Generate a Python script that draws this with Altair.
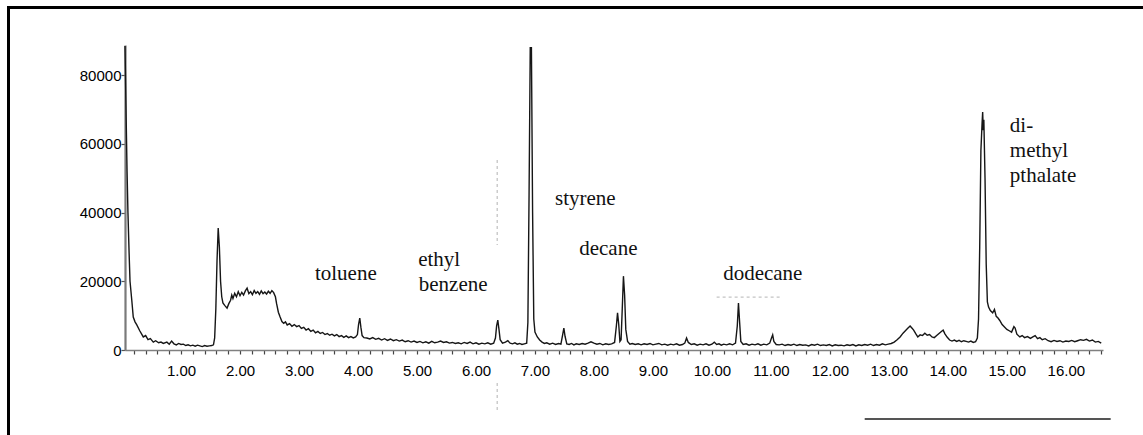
import altair as alt
import pandas as pd

# Total ion chromatogram: (retention time in min, abundance) read in segments
solvent_front = [
    (0.05, 88500), (0.07, 67000), (0.085, 52000), (0.10, 40000), (0.12, 28000),
    (0.135, 20000), (0.165, 14500), (0.19, 9600), (0.22, 8200), (0.25, 7300),
    (0.30, 5600), (0.36, 3800), (0.40, 4200), (0.44, 3000), (0.48, 3300),
    (0.53, 2300), (0.57, 2700), (0.62, 2100), (0.66, 2300), (0.70, 1900),
    (0.76, 2300), (0.80, 1700), (0.84, 2600), (0.88, 1800), (0.92, 1500),
    (0.96, 1900), (1.00, 1600), (1.04, 1700), (1.08, 1300), (1.12, 1500),
    (1.16, 1200), (1.20, 1400), (1.24, 1100), (1.28, 1400), (1.32, 1200),
    (1.36, 1000), (1.40, 1300), (1.44, 1100), (1.48, 1200), (1.52, 1300),
    (1.55, 1500),
]

early_hump = [
    (1.57, 3500), (1.59, 12000), (1.61, 26000), (1.63, 35500), (1.65, 30000),
    (1.67, 20000), (1.69, 15500), (1.71, 13700), (1.74, 13000), (1.78, 12200),
    (1.81, 13500), (1.84, 14500), (1.86, 16000), (1.88, 15000), (1.91, 16500),
    (1.94, 15500), (1.97, 17000), (2.00, 15800), (2.03, 16800), (2.06, 16000),
    (2.09, 17200), (2.12, 18000), (2.15, 16400), (2.18, 17000), (2.21, 16100),
    (2.24, 17300), (2.27, 16500), (2.30, 17000), (2.33, 16200), (2.36, 17200),
    (2.39, 16400), (2.42, 16900), (2.45, 16300), (2.48, 17100), (2.51, 16500),
    (2.54, 17300), (2.57, 16700), (2.60, 15500), (2.62, 13500), (2.65, 11000),
    (2.68, 9600), (2.71, 8300), (2.74, 7800), (2.77, 8200), (2.80, 7300),
    (2.84, 7700), (2.88, 6900), (2.92, 7400), (2.96, 6800), (3.00, 7100),
    (3.04, 6300), (3.08, 6600), (3.12, 5800), (3.16, 6200), (3.20, 5400),
    (3.24, 5800), (3.28, 5000), (3.32, 5400), (3.36, 4800), (3.40, 5100),
    (3.44, 4500), (3.48, 4800), (3.52, 4300), (3.56, 4600), (3.60, 4100),
    (3.64, 4500), (3.68, 3900), (3.72, 4200), (3.76, 3700), (3.80, 4100),
    (3.84, 3600), (3.88, 3900), (3.92, 3500), (3.96, 3800), (3.99, 4500),
    (4.01, 7500), (4.03, 9300), (4.05, 6500), (4.07, 4200), (4.10, 3600),
]

mid_baseline = [
    (4.15, 3500), (4.20, 3200), (4.25, 3600), (4.30, 3100), (4.35, 3400),
    (4.40, 2900), (4.45, 3300), (4.50, 2800), (4.55, 3200), (4.60, 2700),
    (4.65, 3000), (4.70, 2600), (4.75, 2900), (4.80, 2400), (4.85, 2700),
    (4.90, 2300), (4.95, 2600), (5.00, 2200), (5.05, 2500), (5.10, 2100),
    (5.15, 2400), (5.20, 2000), (5.25, 2500), (5.30, 2100), (5.35, 2300),
    (5.40, 2600), (5.45, 2200), (5.50, 2400), (5.55, 2000), (5.60, 2200),
    (5.65, 1900), (5.70, 2100), (5.75, 1800), (5.80, 2200), (5.85, 1900),
    (5.90, 2300), (5.95, 1800), (6.00, 2100), (6.05, 1700), (6.10, 2000),
    (6.15, 1800), (6.20, 2100), (6.25, 1700), (6.30, 2000), (6.33, 3500),
    (6.35, 7000), (6.37, 8700), (6.39, 6000), (6.41, 3000), (6.45, 2000),
    (6.50, 2300), (6.54, 2700), (6.58, 2000), (6.62, 1800), (6.66, 2100),
    (6.70, 1700), (6.74, 1900), (6.78, 1600), (6.82, 1800), (6.86, 2000),
]

styrene_decane = [
    (6.88, 8000), (6.90, 45000), (6.92, 88000), (6.94, 88000), (6.96, 40000),
    (6.98, 9000), (7.00, 5200), (7.04, 3800), (7.08, 2900), (7.12, 2300),
    (7.16, 1900), (7.20, 2100), (7.25, 1700), (7.30, 2000), (7.35, 1600),
    (7.40, 1900), (7.44, 1700), (7.47, 4500), (7.49, 6400), (7.51, 4000),
    (7.54, 1800), (7.58, 1600), (7.62, 1900), (7.66, 1500), (7.70, 1800),
    (7.75, 1600), (7.80, 1900), (7.85, 1700), (7.90, 2000), (7.95, 2400),
    (8.00, 2000), (8.05, 1700), (8.10, 1900), (8.15, 1500), (8.20, 1800),
    (8.25, 1600), (8.30, 1800), (8.35, 2200), (8.38, 7000), (8.40, 10800),
    (8.42, 7500), (8.44, 2500), (8.46, 3000), (8.48, 12000), (8.50, 21500),
    (8.52, 16000), (8.54, 6000), (8.57, 2500), (8.61, 1700),
]

late_baseline = [
    (8.65, 1900), (8.70, 1600), (8.75, 1800), (8.80, 1500), (8.85, 1800),
    (8.90, 1600), (8.95, 1900), (9.00, 1500), (9.05, 1700), (9.10, 1900),
    (9.15, 1500), (9.20, 1700), (9.25, 1400), (9.30, 1700), (9.35, 1500),
    (9.40, 1800), (9.45, 1400), (9.50, 1600), (9.54, 2000), (9.57, 3500),
    (9.60, 2200), (9.65, 1600), (9.70, 1800), (9.75, 1400), (9.80, 1700),
    (9.85, 1500), (9.90, 1800), (9.95, 1400), (10.00, 1700), (10.04, 2300),
    (10.08, 1600), (10.12, 1800), (10.16, 1400), (10.20, 1700), (10.25, 1500),
    (10.30, 1800), (10.35, 1500), (10.40, 2000), (10.43, 7000), (10.45, 13700),
    (10.47, 8000), (10.49, 2500), (10.53, 1600), (10.58, 1800), (10.63, 1400),
    (10.68, 1700), (10.73, 1500), (10.78, 1800), (10.83, 1400), (10.88, 1700),
    (10.93, 1500), (10.98, 2000), (11.01, 3500), (11.03, 4400), (11.05, 2500),
    (11.09, 1600), (11.14, 1500), (11.19, 1700), (11.24, 1300), (11.29, 1600),
    (11.34, 1400), (11.39, 1700), (11.44, 1300), (11.49, 1600), (11.54, 1400),
    (11.59, 1500), (11.64, 1200), (11.69, 1600), (11.74, 1400), (11.79, 1700),
    (11.84, 1300), (11.89, 1500), (11.94, 1300), (11.99, 1600), (12.04, 1200),
    (12.09, 1500), (12.14, 1300), (12.19, 1400), (12.24, 1200), (12.29, 1500),
    (12.34, 1300), (12.39, 1600), (12.44, 1200), (12.49, 1500), (12.54, 1300),
    (12.59, 1600), (12.64, 1400), (12.69, 1700), (12.74, 1300), (12.79, 1600),
    (12.84, 1400), (12.89, 1800), (12.94, 1500), (12.99, 1700),
]

phthalate_region = [
    (13.04, 1900), (13.09, 2300), (13.14, 3000), (13.19, 3800), (13.24, 4900),
    (13.28, 5600), (13.32, 6300), (13.36, 7000), (13.39, 6400), (13.42, 5800),
    (13.46, 4600), (13.49, 3800), (13.53, 4400), (13.57, 4200), (13.61, 4900),
    (13.65, 4300), (13.69, 4500), (13.73, 3800), (13.77, 3600), (13.81, 4200),
    (13.85, 4800), (13.89, 5400), (13.92, 5800), (13.95, 4700), (13.99, 3700),
    (14.03, 2900), (14.07, 2600), (14.11, 2900), (14.15, 2500), (14.19, 2800),
    (14.23, 2400), (14.27, 2700), (14.31, 2500), (14.35, 2300), (14.39, 2600),
    (14.43, 2200), (14.47, 2400), (14.50, 3500), (14.52, 9000), (14.54, 30000),
    (14.56, 58000), (14.58, 66000), (14.59, 69300), (14.60, 64000), (14.61, 67000),
    (14.63, 50000), (14.65, 25000), (14.67, 14000), (14.69, 12500), (14.72, 11500),
    (14.76, 10800), (14.79, 11800), (14.82, 9800), (14.85, 9300), (14.88, 8600),
    (14.92, 7400), (14.96, 6700), (15.00, 6000), (15.04, 5600), (15.08, 5200),
    (15.12, 6800), (15.14, 6400), (15.17, 4600), (15.22, 3800), (15.26, 4200),
    (15.30, 3600), (15.35, 3900), (15.40, 3400), (15.44, 3800), (15.48, 4200),
    (15.52, 3300), (15.56, 3600), (15.60, 3000), (15.65, 3300), (15.70, 2700),
    (15.75, 2400), (15.80, 2800), (15.85, 2500), (15.90, 2700), (15.95, 2300),
    (16.00, 2600), (16.05, 2500), (16.10, 2800), (16.15, 2400), (16.20, 2700),
    (16.25, 3000), (16.30, 2800), (16.35, 3100), (16.40, 2600), (16.45, 2900),
    (16.50, 2300), (16.55, 2500), (16.60, 2000),
]

# Compound annotations: text, left edge (min), baseline (abundance)
label_text = ["toluene", "ethyl", "benzene", "styrene", "decane", "dodecane",
              "di-", "methyl", "pthalate"]
label_time = [3.27, 5.02, 5.03, 7.34, 7.75, 10.19, 15.05, 15.05, 15.05]
label_level = [20400, 24450, 17200, 42200, 27650, 20400, 63500, 56200, 48900]

x_ticks = [round(0.2 * i, 1) for i in range(1, 84)]
y_ticks = [0, 20000, 40000, 60000, 80000]

T_MIN, T_MAX = 0.05, 16.63
Y_MAX = 88800

trace = pd.DataFrame(
    solvent_front + early_hump + mid_baseline + styrene_decane + late_baseline + phthalate_region,
    columns=["time", "abundance"],
)
labels = pd.DataFrame({"text": label_text, "time": label_time, "level": label_level})

x_scale = alt.Scale(domain=[T_MIN, T_MAX], nice=False, zero=False)
y_scale = alt.Scale(domain=[0, Y_MAX], nice=False, zero=False)

x_axis = alt.Axis(
    values=x_ticks, title=None, grid=False,
    labelExpr="round(datum.value * 5) % 5 == 0 ? format(datum.value, '.2f') : ''",
    labelOverlap=False, labelFlush=False, labelBound=False,
    labelFont="Liberation Sans", labelFontSize=15, labelColor="#000",
    labelPadding=9, tickSize=4, tickColor="#444", tickWidth=1.2,
    domainColor="#808080", domainWidth=1.6,
)
y_axis = alt.Axis(
    values=y_ticks, title=None, grid=False, format="d",
    labelFont="Liberation Sans", labelFontSize=15, labelColor="#000",
    labelPadding=0, tickSize=4, tickColor="#555", tickWidth=1.2,
    domainColor="#7a7a7a", domainWidth=2.2, labelOverlap=False,
)

line = alt.Chart(trace).mark_line(color="#161616", strokeWidth=1.4).encode(
    x=alt.X("time:Q", scale=x_scale, axis=x_axis),
    y=alt.Y("abundance:Q", scale=y_scale, axis=y_axis),
)

names = alt.Chart(labels).mark_text(
    font="Liberation Serif", fontSize=21, align="left", baseline="alphabetic", color="#111"
).encode(
    x=alt.X("time:Q", scale=x_scale, axis=x_axis),
    y=alt.Y("level:Q", scale=y_scale, axis=y_axis),
    text="text:N",
)

# Faint dashed marks left on the scanned trace
faint = pd.DataFrame({
    "t1": [6.36, 6.36, 10.08],
    "t2": [6.36, 6.36, 11.15],
    "v1": [55300, -9600, 15400],
    "v2": [30600, -17500, 15400],
})
faint_marks = alt.Chart(faint).mark_rule(color="#c4c4c4", strokeWidth=1.3, strokeDash=[3, 3]).encode(
    x=alt.X("t1:Q", scale=x_scale, axis=x_axis), x2="t2:Q",
    y=alt.Y("v1:Q", scale=y_scale, axis=y_axis), y2="v2:Q",
)

# Rule below the lower right of the trace
under = pd.DataFrame({"t1": [12.59], "t2": [16.76], "v": [-20100]})
under_rule = alt.Chart(under).mark_rule(color="#555", strokeWidth=2).encode(
    x=alt.X("t1:Q", scale=x_scale, axis=x_axis), x2="t2:Q",
    y=alt.Y("v:Q", scale=y_scale, axis=y_axis),
)

# Figure frame: heavy top and left borders
one = pd.DataFrame({"k": [0]})
frame_top = alt.Chart(one).mark_rule(color="#000", strokeWidth=3).encode(
    x=alt.value(-118), x2=alt.value(1020), y=alt.value(-37.5)
)
frame_left = alt.Chart(one).mark_rule(color="#000", strokeWidth=3).encode(
    x=alt.value(-116.5), y=alt.value(-39), y2=alt.value(392)
)

chart = alt.layer(
    line, faint_marks, under_rule, names, frame_top, frame_left
).properties(
    width=978, height=305,
    autosize=alt.AutoSizeParams(type="none"),
    padding={"left": 125, "top": 45, "right": 40, "bottom": 85},
    background="white",
).configure_view(stroke=None).configure_axis(labelOverlap=False)

chart.save("out.html", embed_options={"renderer": "svg", "actions": False})
